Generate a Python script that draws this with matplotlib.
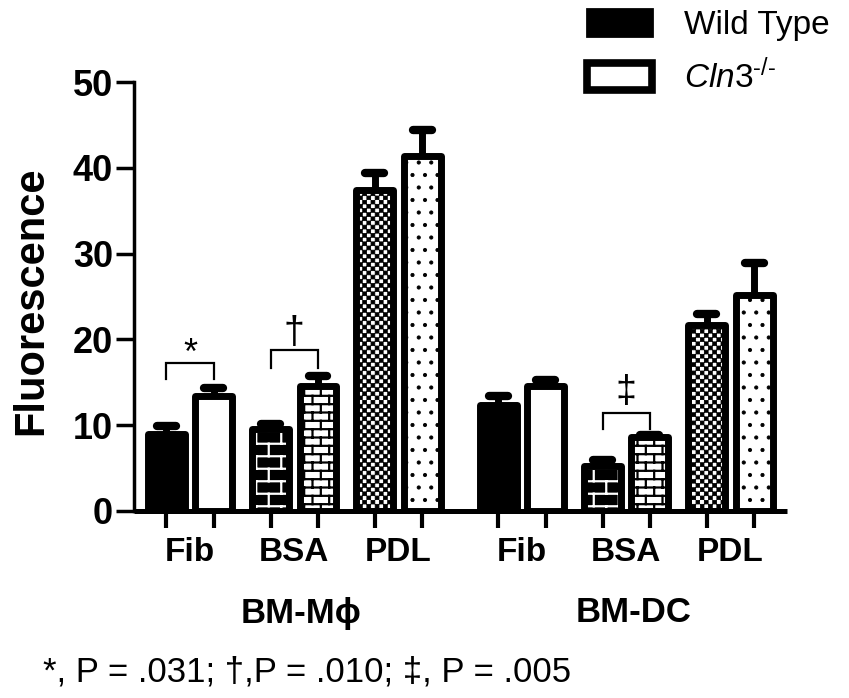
import warnings
import numpy as np
import matplotlib
matplotlib.use('Agg')
import matplotlib.pyplot as plt
import matplotlib.hatch as mhatch
from matplotlib.path import Path
from matplotlib.patches import Patch
from matplotlib.transforms import blended_transform_factory

warnings.filterwarnings('ignore')

# data
cells = ['BM-M\u03d5', 'BM-DC']
substrates = ['Fib', 'BSA', 'PDL']
wt_mean = [9.0, 9.6, 37.4, 12.4, 5.3, 21.7]
wt_err = [0.85, 0.5, 2.0, 1.0, 0.7, 1.3]
ko_mean = [13.4, 14.6, 41.4, 14.6, 8.6, 25.2]
ko_err = [0.95, 1.1, 3.0, 0.7, 0.3, 3.7]
series = ['Wild Type', '$\\mathit{Cln3}^{\\mathit{\u2010/\u2010}}$']

# significance brackets: pair index, bracket top, leg bottom, mark, mark y
sig_pair = [0, 1, 4]
sig_top = [17.25, 18.8, 11.4]
sig_leg = [15.4, 16.7, 9.55]
sig_mark = ['*', '\u2020', '\u2021']
sig_mark_y = [18.2, 20.7, 13.9]
footnote = '*, P = .031; \u2020,P = .010; \u2021, P = .005'


# custom hatches for the GraphPad style fills
class BrickHatch(mhatch.HatchPatternBase):
    def __init__(self, hatch, density):
        n = hatch.count('b') * 8 + hatch.count('B') * 12
        m = n // 2
        segs = []
        for i in range(n):
            ya, yb = (i + 0.5) / n, (i + 1.5) / n
            segs.append([(0, ya), (1, ya)])
            for j in range(m):
                x = (j + 0.25 + 0.5 * (i % 2)) / m
                if yb > 1:
                    segs.append([(x, ya), (x, 1)])
                    segs.append([(x, 0), (x, yb - 1)])
                else:
                    segs.append([(x, ya), (x, yb)])
        self.segs = np.array(segs, dtype=float).reshape(-1, 2)
        self.num_vertices = len(self.segs)

    def set_vertices_and_codes(self, vertices, codes):
        vertices[:] = self.segs
        codes[0::2] = Path.MOVETO
        codes[1::2] = Path.LINETO


class CheckerHatch(mhatch.HatchPatternBase):
    def __init__(self, hatch, density):
        n = hatch.count('c') * 24
        sq = []
        h = 0.45 / n if n else 0
        for i in range(n):
            for j in range(n):
                if (i + j) % 2 == 0:
                    cx, cy = (j + 0.5) / n, (i + 0.5) / n
                    sq += [(cx - h, cy - h), (cx + h, cy - h), (cx + h, cy + h),
                           (cx - h, cy + h), (cx - h, cy - h)]
        self.sq = np.array(sq, dtype=float).reshape(-1, 2)
        self.num_vertices = len(self.sq)

    def set_vertices_and_codes(self, vertices, codes):
        vertices[:] = self.sq
        codes[:] = Path.LINETO
        codes[0::5] = Path.MOVETO
        codes[4::5] = Path.CLOSEPOLY


class DotHatch(mhatch.Circles):
    size = 0.13
    filled = True

    def __init__(self, hatch, density):
        self.num_rows = hatch.count('d') * 8
        super().__init__(hatch, density)


mhatch._hatch_types.extend([BrickHatch, CheckerHatch, DotHatch])

plt.rcParams['font.family'] = ['Liberation Sans', 'DejaVu Sans']
plt.rcParams['mathtext.fontset'] = 'custom'
plt.rcParams['mathtext.it'] = 'Liberation Sans:italic'
plt.rcParams['mathtext.rm'] = 'Liberation Sans'
plt.rcParams['hatch.linewidth'] = 1.5

fig = plt.figure(figsize=(8.49, 6.98), dpi=100)
ax = fig.add_axes([134 / 849, 1 - 511 / 698, (787 - 134) / 849, (511 - 82) / 698])

x_pair = np.array([0, 2.2, 4.4, 7.0, 9.2, 11.4])
x_wt = x_pair - 0.5
x_ko = x_pair + 0.5
bw = 0.78

wt_face = ['black', 'black', 'white', 'black', 'black', 'white']
wt_hatch = [None, 'b', 'c', None, 'b', 'c']
wt_hcol = ['black', 'white', 'black', 'black', 'white', 'black']
ko_hatch = [None, 'B', 'd', None, 'B', 'd']

fill_wt = ax.bar(x_wt, wt_mean, bw, color=wt_face, lw=0, zorder=2)
fill_ko = ax.bar(x_ko, ko_mean, bw, color='white', lw=0, zorder=2)
for bars, hatches, hcols in ((fill_wt, wt_hatch, wt_hcol),
                             (fill_ko, ko_hatch, ['black'] * 6)):
    for p, h, c in zip(bars, hatches, hcols):
        if h:
            p.set_edgecolor(c)
            p.set_hatch(h)
            if hasattr(p, 'set_hatch_linewidth'):
                p.set_hatch_linewidth(0.6 if h in ('c', 'd') else 1.6)

for xs, m in ((x_wt, wt_mean), (x_ko, ko_mean)):
    ax.bar(xs, m, bw, facecolor='none', edgecolor='black', lw=5,
           joinstyle='round', zorder=2.5)

for xs, m, e in ((x_wt, wt_mean, wt_err), (x_ko, ko_mean, ko_err)):
    top = np.array(m) + np.array(e)
    ax.vlines(xs, m, top, colors='black', lw=5, zorder=3)
    ax.hlines(top, xs - 0.2, xs + 0.2, colors='black', lw=6,
              capstyle='round', zorder=3)

# significance brackets
for i, t, lg, mk, my in zip(sig_pair, sig_top, sig_leg, sig_mark, sig_mark_y):
    xa, xb = x_wt[i], x_ko[i]
    ax.plot([xa, xa, xb, xb], [lg, t, t, lg], color='black', lw=1.6,
            solid_joinstyle='miter', zorder=3)
    ax.text((xa + xb) / 2, my, mk, ha='center', va='center',
            fontsize=26 if mk == '*' else 27)

ax.set_xlim(-1.18, 12.59)
ax.set_ylim(0, 50)
ax.set_yticks([0, 10, 20, 30, 40, 50])
ax.set_xticks(np.sort(np.concatenate([x_wt, x_ko])))
ax.set_xticklabels([])
ax.set_xticks(x_pair, substrates * 2, minor=True)
ax.tick_params(axis='x', which='major', direction='out', length=12, width=3)
ax.tick_params(axis='x', which='minor', length=0, pad=19, labelsize=24)
ax.tick_params(axis='y', direction='out', length=13, width=2.5, pad=2,
               labelsize=26)
for lab in ax.get_xticklabels(minor=True) + ax.get_yticklabels():
    lab.set_fontweight('bold')

for s in ('top', 'right'):
    ax.spines[s].set_visible(False)
ax.spines['left'].set_linewidth(2.5)
ax.spines['bottom'].set_linewidth(3.6)
ax.spines['bottom'].set_capstyle('butt')

tr = blended_transform_factory(ax.transData, ax.transAxes)
for k, name in enumerate(cells):
    ax.text(x_pair[3 * k + 1] + 0.15, -(613 - 511) / 429, name,
            transform=tr, ha='center', va='center', fontsize=25,
            fontweight='bold')

fig.text(31 / 849, 1 - 301 / 698, 'Fluorescence', rotation=90,
         ha='center', va='center', fontsize=30, fontweight='bold')
fig.text(43 / 849, 1 - 672 / 698, footnote, ha='left', va='center',
         fontsize=25)

handles = [Patch(facecolor='black', edgecolor='black', lw=2, joinstyle='round'),
           Patch(facecolor='white', edgecolor='black', lw=5.5,
                 joinstyle='round')]
fig.legend(handles, series, loc='upper left',
           bbox_to_anchor=(587 / 849, 1 - 9 / 698), frameon=False,
           fontsize=24, handlelength=1.95, handleheight=0.85,
           handletextpad=0.95, labelspacing=0.55, borderpad=0,
           borderaxespad=0)

fig.savefig('out.png', dpi=100)
